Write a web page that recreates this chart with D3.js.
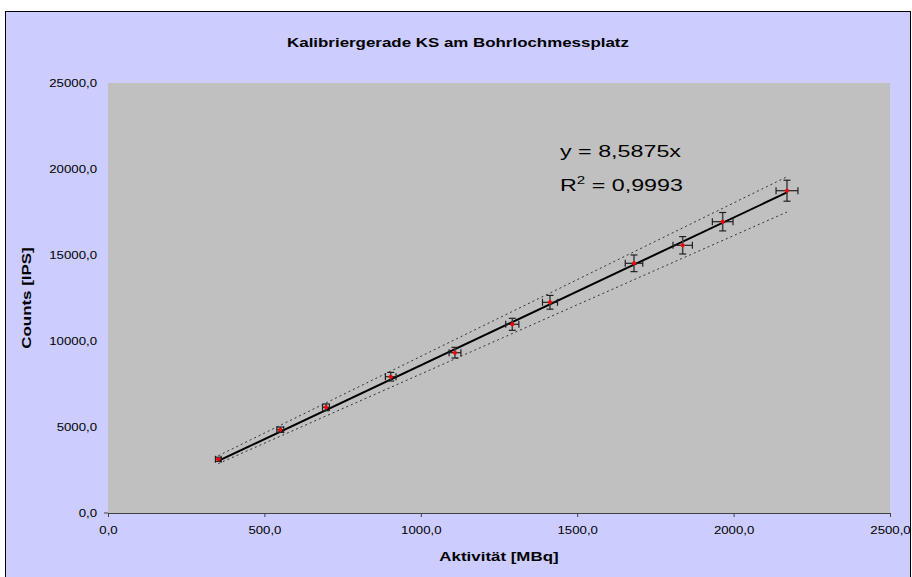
<!DOCTYPE html>
<html>
<head>
<meta charset="utf-8">
<script src="https://cdn.jsdelivr.net/npm/d3@7/dist/d3.min.js"></script>
<style>
  html, body { margin: 0; padding: 0; background: #ffffff; }
  svg { display: block; font-family: "Liberation Sans", Arial, sans-serif; }
</style>
</head>
<body>
<svg id="chart" width="912" height="577"></svg>
<script>
// ---- data ----
const activity    = [352.6, 550.8, 696.9, 903.8, 1109.3, 1292.5, 1413.0, 1681.6, 1837.2, 1965.1, 2170.7];
const counts      = [3122, 4843, 6145, 7924, 9320, 10971, 12250, 14517, 15564, 16936, 18738];
const countsErr   = [120, 155, 195, 250, 310, 350, 400, 485, 505, 535, 610];
const activityErr = [9, 11, 11, 17, 19, 21, 24, 28, 31, 33, 35];
const slope = 8.5875;
const rSquared = 0.9993;
const bandX     = [352.6, 2170.7];
const bandUpper = [3330, 19550];
const bandLower = [2870, 17500];
const xTicks = [0, 500, 1000, 1500, 2000, 2500];
const yTicks = [0, 5000, 10000, 15000, 20000, 25000];
const titleText = "Kalibriergerade KS am Bohrlochmessplatz";
const xTitle = "Aktivität [MBq]";
const yTitle = "Counts [IPS]";

// ---- layout ----
const svg = d3.select("#chart");
const plot = { left: 108, right: 890, top: 83, bottom: 513 };
const fmt = v => d3.format(".1f")(v).replace(".", ",");
const dec = (v, n) => d3.format("." + n + "f")(v).replace(".", ",");
const STRETCH = 1.3;
function stretch(sel, k) {
  sel.each(function () {
    const w = this.getComputedTextLength();
    d3.select(this).attr("textLength", w * k).attr("lengthAdjust", "spacingAndGlyphs");
  });
}

const x = d3.scaleLinear().domain([0, 2500]).range([plot.left, plot.right]);
const y = d3.scaleLinear().domain([0, 25000]).range([plot.bottom, plot.top]);

// background + frame
svg.append("rect").attr("x", 0).attr("y", 0).attr("width", 912).attr("height", 577).attr("fill", "#ffffff");
svg.append("rect").attr("x", 5.5).attr("y", 11.5).attr("width", 905).attr("height", 600)
  .attr("fill", "#CCCCFF").attr("stroke", "#000").attr("stroke-width", 1);

// plot area
svg.append("rect").attr("x", plot.left).attr("y", plot.top)
  .attr("width", plot.right - plot.left).attr("height", plot.bottom - plot.top)
  .attr("fill", "#C0C0C0");

// title
svg.append("text").attr("x", 458).attr("y", 47).attr("text-anchor", "middle")
  .attr("font-size", 13).attr("font-weight", "bold").text(titleText)
  .call(stretch, STRETCH);

// x axis
const xAxis = d3.axisBottom(x).tickValues(xTicks).tickFormat(fmt).tickSize(4).tickSizeOuter(0).tickPadding(10);
const gx = svg.append("g").attr("transform", `translate(0,${plot.bottom})`).call(xAxis);
gx.select(".domain").attr("stroke", "#404040");
gx.selectAll(".tick line").attr("stroke", "#404040");
gx.selectAll("text").attr("font-size", 10).attr("fill", "#000").attr("font-family", "Liberation Sans, Arial, sans-serif")
  .call(stretch, 1.32);

// y axis (labels only, tick at zero)
const yAxis = d3.axisLeft(y).tickValues(yTicks).tickFormat(fmt).tickSize(0).tickPadding(11);
const gy = svg.append("g").attr("transform", `translate(${plot.left},0)`).call(yAxis);
gy.select(".domain").remove();
gy.selectAll("text").attr("font-size", 10).attr("fill", "#000").attr("font-family", "Liberation Sans, Arial, sans-serif")
  .call(stretch, 1.32);
svg.append("line").attr("x1", plot.left - 4).attr("x2", plot.left)
  .attr("y1", y(0)).attr("y2", y(0)).attr("stroke", "#404040");

// axis titles
svg.append("text").attr("x", 499).attr("y", 561).attr("text-anchor", "middle")
  .attr("font-size", 13).attr("font-weight", "bold").text(xTitle)
  .call(stretch, STRETCH);
svg.append("text").attr("transform", `translate(31,${(plot.top + plot.bottom) / 2}) rotate(-90)`)
  .attr("text-anchor", "middle").attr("font-size", 13).attr("font-weight", "bold").text(yTitle)
  .call(stretch, STRETCH);

// confidence band lines (dotted)
const bandLine = d3.line().x((d, i) => x(bandX[i])).y(d => y(d));
[bandUpper, bandLower].forEach(arr => {
  svg.append("path").attr("d", bandLine(arr)).attr("fill", "none")
    .attr("stroke", "#333").attr("stroke-width", 1).attr("stroke-dasharray", "2,3");
});

// trend line y = slope * x
const xmin = d3.min(activity), xmax = d3.max(activity);
svg.append("line").attr("x1", x(xmin)).attr("y1", y(slope * xmin))
  .attr("x2", x(xmax)).attr("y2", y(slope * xmax))
  .attr("stroke", "#000").attr("stroke-width", 2);

// error bars
const pts = activity.map((a, i) => ({ a, c: counts[i], ec: countsErr[i], ea: activityErr[i] }));
const eb = svg.append("g");
pts.forEach(p => {
  eb.append("line").attr("x1", x(p.a)).attr("x2", x(p.a)).attr("y1", y(p.c - p.ec)).attr("y2", y(p.c + p.ec))
    .attr("stroke", "#404040").attr("stroke-width", 1.5);
  [p.c - p.ec, p.c + p.ec].forEach(v => {
    eb.append("line").attr("x1", x(p.a) - 3.5).attr("x2", x(p.a) + 3.5).attr("y1", y(v)).attr("y2", y(v))
      .attr("stroke", "#202020").attr("stroke-width", 1.2);
  });
  eb.append("line").attr("x1", x(p.a - p.ea)).attr("x2", x(p.a + p.ea)).attr("y1", y(p.c)).attr("y2", y(p.c))
    .attr("stroke", "#202020").attr("stroke-width", 1.2);
  [p.a - p.ea, p.a + p.ea].forEach(v => {
    eb.append("line").attr("x1", x(v)).attr("x2", x(v)).attr("y1", y(p.c) - 3.5).attr("y2", y(p.c) + 3.5)
      .attr("stroke", "#202020").attr("stroke-width", 1.2);
  });
});

// markers
svg.append("g").selectAll("circle").data(pts).join("circle")
  .attr("cx", d => x(d.a)).attr("cy", d => y(d.c)).attr("r", 2).attr("fill", "#FF0000");

// equation text (horizontally stretched like the reference)
const eq = svg.append("g").attr("transform", "translate(560,0) scale(1.37,1)")
  .attr("font-size", 17).attr("fill", "#000");
eq.append("text").attr("x", 0).attr("y", 157).text("y = " + dec(slope, 4) + "x");
const r2 = eq.append("text").attr("x", 0).attr("y", 191);
r2.append("tspan").text("R");
r2.append("tspan").attr("font-size", 11).attr("dy", -7).text("2");
r2.append("tspan").attr("dy", 7).text(" = " + dec(rSquared, 4));
</script>
</body>
</html>
